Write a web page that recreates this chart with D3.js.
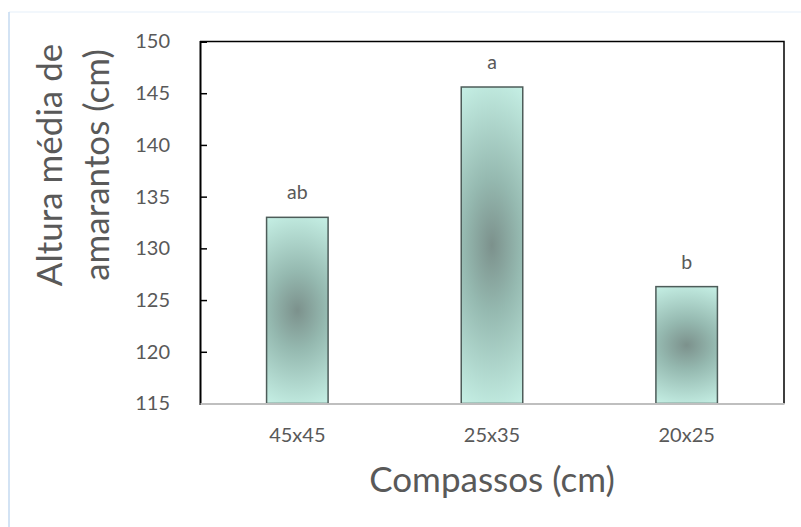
<!DOCTYPE html>
<html><head><meta charset="utf-8">
<script src="https://cdn.jsdelivr.net/npm/d3@7"></script>
<style>
html,body{margin:0;padding:0;background:#fff;}
svg{display:block;}
text{font-family:Lato, "Open Sans", sans-serif;fill:#595959;}
</style></head>
<body>
<script>
const categories = ["45x45", "25x35", "20x25"];
const values = [133.0, 145.6, 126.3];
const letters = ["ab", "a", "b"];
const yTicks = [115, 120, 125, 130, 135, 140, 145, 150];
const yTitle = ["Altura média de", "amarantos (cm)"];
const xTitle = "Compassos (cm)";

const W = 801, H = 527;
const svg = d3.select("body").append("svg").attr("width", W).attr("height", H);

const defs = svg.append("defs");
const grad = defs.append("radialGradient").attr("id", "barGrad")
  .attr("cx", "0.5").attr("cy", "0.5").attr("r", "0.6")
  .attr("gradientTransform", "translate(0.5,0.5) scale(2.2,1) translate(-0.5,-0.5)");
grad.append("stop").attr("offset", "0%").attr("stop-color", "#7c918c");
grad.append("stop").attr("offset", "35%").attr("stop-color", "#95b9b0");
grad.append("stop").attr("offset", "100%").attr("stop-color", "#cdf8ed");

// chart area border (faint)
svg.append("line").attr("x1", 9).attr("x2", W).attr("y1", 12).attr("y2", 12)
  .attr("stroke", "#eef4fb").attr("stroke-width", 1.5);
svg.append("line").attr("x1", 9).attr("x2", 9).attr("y1", 12).attr("y2", H)
  .attr("stroke", "#c5daf0").attr("stroke-width", 1.5);

const pL = 200, pR = 784, pT = 41.5, pB = 403.5;
const x = d3.scaleBand().domain(categories).range([pL, pR])
  .paddingInner(0.684).paddingOuter(0.342);
const y = d3.scaleLinear().domain([115, 150]).range([pB, pT]);

// top and right frame
svg.append("path")
  .attr("d", `M${pL},${pT}H${pR}V${pB}`)
  .attr("fill", "none").attr("stroke", "#000").attr("stroke-width", 1.5);

// bars
svg.selectAll("rect.bar").data(categories).enter().append("rect")
  .attr("class", "bar")
  .attr("x", d => x(d))
  .attr("width", x.bandwidth())
  .attr("y", (d, i) => y(values[i]))
  .attr("height", (d, i) => y(115) - y(values[i]))
  .attr("fill", "url(#barGrad)")
  .attr("stroke", "#4d5c59").attr("stroke-width", 1.5);

// letters
svg.selectAll("text.lt").data(categories).enter().append("text")
  .attr("class", "lt")
  .attr("x", d => x(d) + x.bandwidth() / 2)
  .attr("y", (d, i) => y(values[i]) - 18)
  .attr("text-anchor", "middle")
  .style("font-size", "19.5px")
  .text((d, i) => letters[i]);

// y axis
const yAxis = d3.axisLeft(y).tickValues(yTicks).tickSize(-7).tickPadding(30).tickFormat(d3.format("d"));
const gy = svg.append("g").attr("transform", `translate(${pL},0)`).call(yAxis);
gy.select(".domain").attr("stroke", "#000").attr("stroke-width", 2);
gy.selectAll(".tick line").attr("stroke", "#000").attr("stroke-width", 1.5);
gy.selectAll(".tick text").style("font-size", "20px").attr("fill", "#595959")
  .attr("font-family", null);

// x axis
const xAxis = d3.axisBottom(x).tickSize(0).tickPadding(0);
const gx = svg.append("g").attr("transform", `translate(0,${pB})`).call(xAxis);
gx.select(".domain").attr("stroke", "#bfbfbf").attr("stroke-width", 2.2);
gx.selectAll(".tick text").style("font-size", "20px").attr("fill", "#595959")
  .attr("dy", null).attr("y", 38.5);

// titles
svg.append("text").attr("x", (pL + pR) / 2).attr("y", 492)
  .attr("text-anchor", "middle").style("font-size", "35px").text(xTitle);

svg.selectAll("text.yt").data(yTitle).enter().append("text")
  .attr("class", "yt")
  .attr("transform", (d, i) => `translate(${i === 0 ? 62 : 109},165) rotate(-90)`)
  .attr("text-anchor", "middle").style("font-size", "35px").text(d => d);
</script>
</body></html>
